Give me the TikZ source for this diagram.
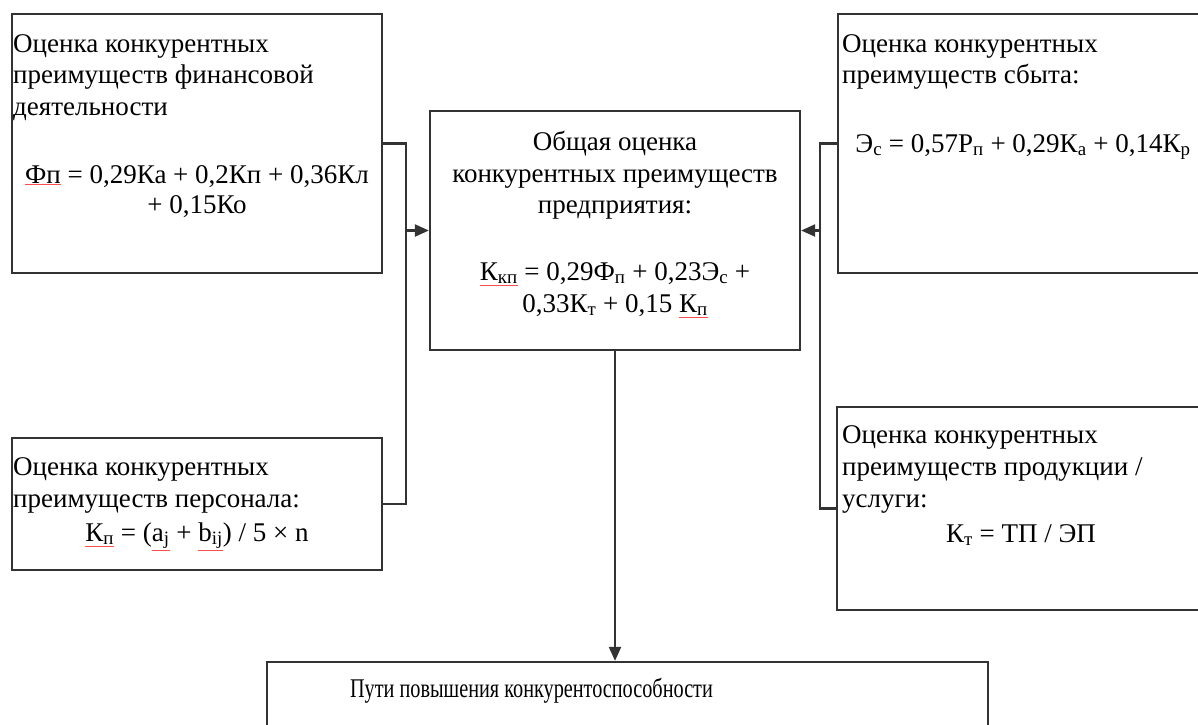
\documentclass[tikz,border=0pt]{standalone}
\usepackage{fontspec}
\setmainfont{Liberation Serif}
\usetikzlibrary{arrows.meta}
\newcommand{\spl}[1]{\textcolor{red!70}{\underline{\textcolor{black}{#1}}}}
\newcommand{\sbs}[1]{\textsubscript{#1}}
\begin{document}
\begin{tikzpicture}[x=1pt,y=-1pt,
  box/.style={draw=black!80, line width=2.3pt, inner sep=0pt},
  txt/.style={anchor=base west, inner sep=0pt, font=\fontsize{27}{32}\selectfont},
  ctxt/.style={anchor=base, inner sep=0pt, font=\fontsize{27}{32}\selectfont},
  conn/.style={draw=black!80, line width=2.2pt},
  arr/.style={conn, -{Triangle[length=14pt,width=12pt]}}]
\useasboundingbox (0,0) rectangle (1198,724);
\clip (0,0) rectangle (1198,724);
% boxes
\node[box, minimum width=370pt, minimum height=259pt] (A) at (197,143.5) {};
\node[box, minimum width=370pt, minimum height=132pt] (B) at (197,504) {};
\node[box, minimum width=370pt, minimum height=239pt] (C) at (615,230.5) {};
\node[box, minimum width=367pt, minimum height=259pt] (D) at (1021.5,143.5) {};
\node[box, minimum width=368pt, minimum height=203pt] (E) at (1021,508.5) {};
\node[box, minimum width=721pt, minimum height=78pt] (F) at (627.5,701) {};
% texts A
\node[txt] (a1) at (13,52) {Оценка конкурентных};
\node[txt] (a2) at (13,83) {преимуществ финансовой};
\node[txt] (a3) at (13,115) {деятельности};
\node[ctxt] (a4) at (197,183) {\spl{Фп} = 0,29Ка + 0,2Кп + 0,36Кл};
\node[ctxt] (a5) at (197,213) {+ 0,15Ко};
% texts C
\node[ctxt] (c1) at (615,150) {Общая оценка};
\node[ctxt] (c2) at (615,182) {конкурентных преимуществ};
\node[ctxt] (c3) at (615,213) {предприятия:};
\node[ctxt] (c4) at (615,280) {\spl{К\sbs{кп}} = 0,29Ф\sbs{п} + 0,23Э\sbs{с} +};
\node[ctxt] (c5) at (615,312) {0,33К\sbs{т} + 0,15 \spl{К\sbs{п}}};
% texts D
\node[txt] (d1) at (842,52) {Оценка конкурентных};
\node[txt] (d2) at (842,83) {преимуществ сбыта:};
\node[ctxt] (d3) at (1023,152) {Э\sbs{с} = 0,57Р\sbs{п} + 0,29К\sbs{а} + 0,14К\sbs{р}};
% texts B
\node[txt] (b1) at (13,475) {Оценка конкурентных};
\node[txt] (b2) at (13,507) {преимуществ персонала:};
\node[ctxt] (b3) at (197,541) {\spl{К\sbs{п}} = (\spl{a\sbs{j}} + \spl{b\sbs{ij}}) / 5 × n};
% texts E
\node[txt] (e1) at (842,443) {Оценка конкурентных};
\node[txt] (e2) at (842,475) {преимуществ продукции /};
\node[txt] (e3) at (842,507) {услуги:};
\node[ctxt] (e4) at (1021,542) {К\sbs{т} = ТП / ЭП};
% text F
\node[ctxt] (f1) at (531.5,697) {\scalebox{0.75}[1]{Пути повышения конкурентоспособности}};
% connectors
\coordinate (jL) at (406,230.5);
\coordinate (jR) at (820,230.5);
\draw[conn] (A.east) -| (jL) |- (B.east);
\draw[arr] (jL) -- (C.west);
\draw[conn] (D.west) -| (jR) |- (E.west);
\draw[arr] (jR) -- (C.east);
\draw[arr] (C.south) -- (C.south |- F.north);
\end{tikzpicture}
\end{document}
